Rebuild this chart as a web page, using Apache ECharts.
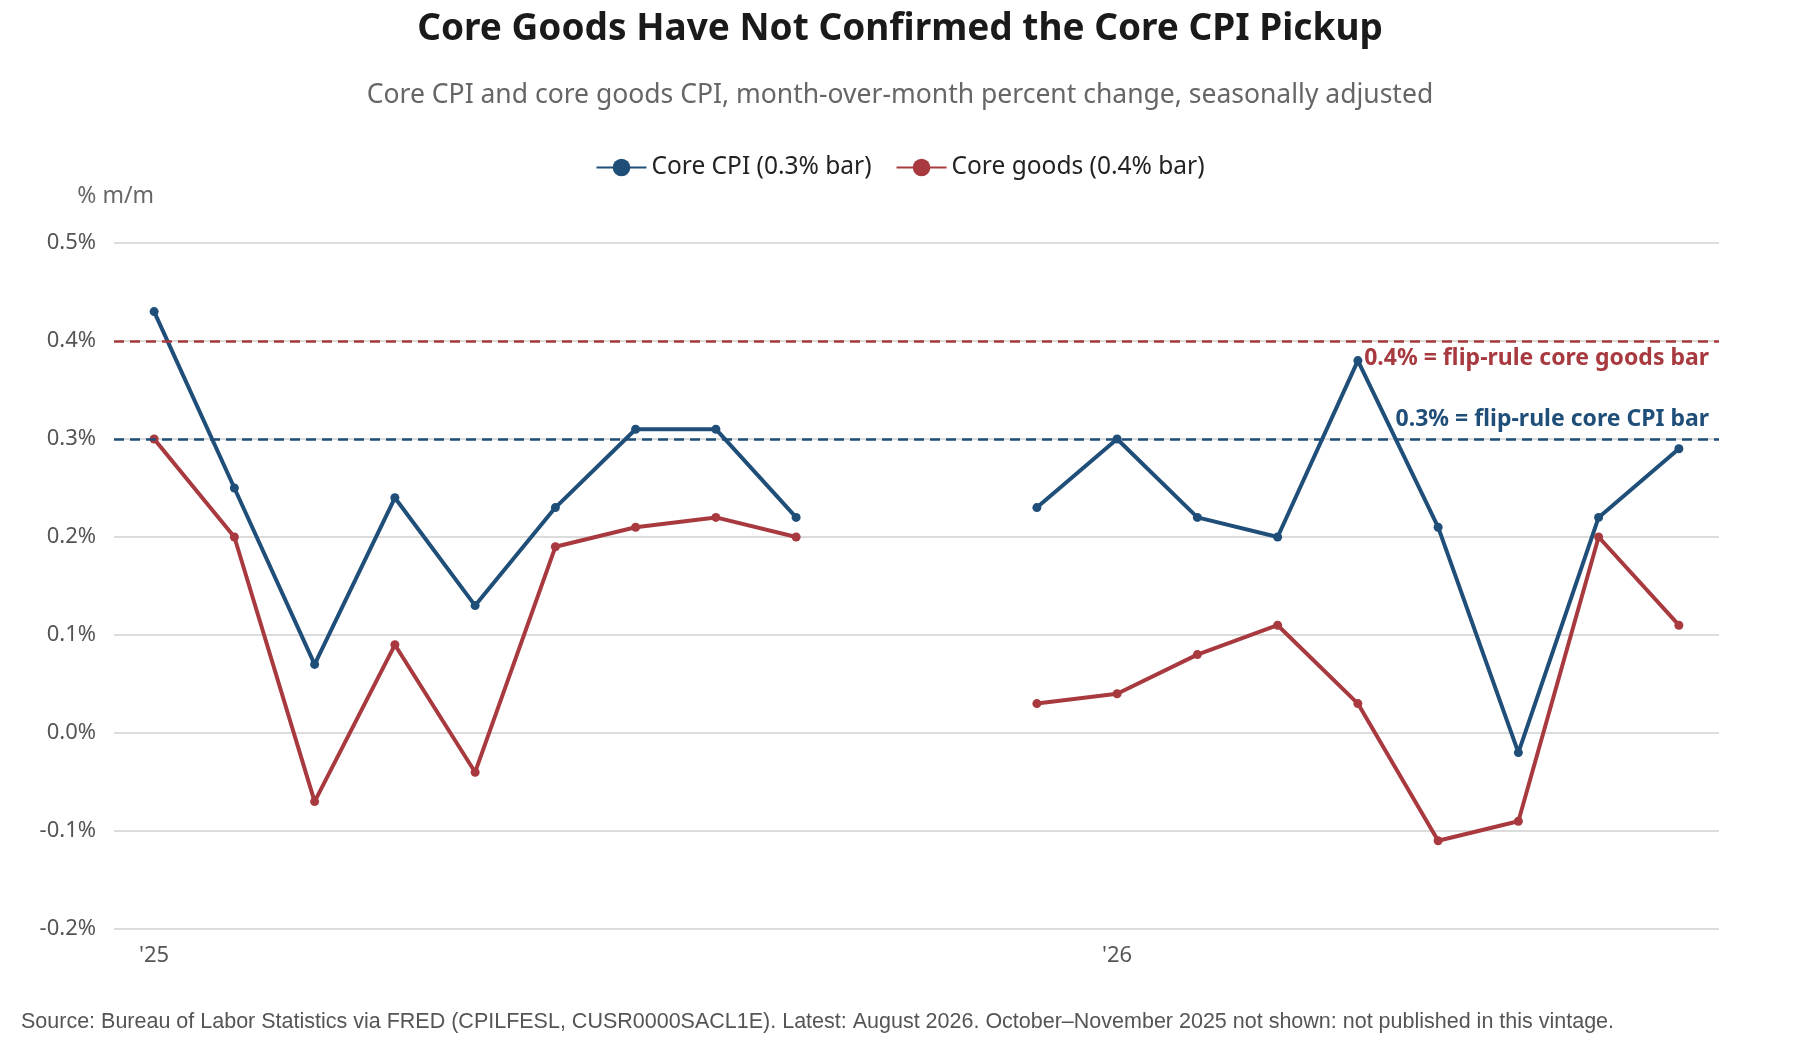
<!DOCTYPE html>
<html><head><meta charset="utf-8">
<script src="https://cdn.jsdelivr.net/npm/echarts@6/dist/echarts.min.js"></script>
<style>html,body{margin:0;padding:0;background:#fff}#c{width:1800px;height:1040px}</style>
</head><body><div id="c"></div>
<script>
const months = ['2025-01','2025-02','2025-03','2025-04','2025-05','2025-06','2025-07','2025-08','2025-09','2025-10','2025-11','2025-12','2026-01','2026-02','2026-03','2026-04','2026-05','2026-06','2026-07','2026-08'];
const coreCPI = [0.43,0.25,0.07,0.24,0.13,0.23,0.31,0.31,0.22,null,null,0.23,0.30,0.22,0.20,0.38,0.21,-0.02,0.22,0.29];
const coreGoods = [0.30,0.20,-0.07,0.09,-0.04,0.19,0.21,0.22,0.20,null,null,0.03,0.04,0.08,0.11,0.03,-0.11,-0.09,0.20,0.11];
const blue='#1f4e79', red='#a83a3f';
const F='"Noto Sans", "Open Sans", sans-serif';
const chart = echarts.init(document.getElementById('c'));
chart.setOption({
  animation:false,
  textStyle:{fontFamily:F},
  title:[
    {text:'Core Goods Have Not Confirmed the Core CPI Pickup',left:'center',top:6,textStyle:{fontSize:37,fontWeight:'bold',color:'#1a1a1a',fontFamily:F}},
    {text:'Core CPI and core goods CPI, month-over-month percent change, seasonally adjusted',left:'center',top:77,textStyle:{fontSize:26.5,fontWeight:'normal',color:'#666',fontFamily:F}},
    {text:'Source: Bureau of Labor Statistics via FRED (CPILFESL, CUSR0000SACL1E). Latest: August 2026. October–November 2025 not shown: not published in this vintage.',left:16,top:1006,textStyle:{fontSize:21.5,fontWeight:'normal',color:'#555',fontFamily:'"Liberation Sans", Arial, sans-serif'}}
  ],
  legend:{top:150,left:'center',itemWidth:50,itemHeight:22,itemGap:24,textStyle:{fontSize:24.5,color:'#222'},
    data:['Core CPI (0.3% bar)','Core goods (0.4% bar)']},
  grid:{left:114,right:81,top:243,bottom:111},
  xAxis:{type:'category',data:months,boundaryGap:true,
    axisLine:{show:false},axisTick:{show:false},
    axisLabel:{fontSize:22,color:'#555',margin:16,interval:0,
      formatter:v=>v.endsWith('-01')?"'"+v.slice(2,4):''}},
  yAxis:{type:'value',min:-0.2,max:0.5,interval:0.1,name:'% m/m',
    nameTextStyle:{fontSize:23,color:'#666',align:'right',padding:[0,-40,20,0]},
    axisLabel:{fontSize:22,color:'#555',margin:18,formatter:v=>v.toFixed(1)+'%'},
    splitLine:{lineStyle:{color:'#d0d0d0',width:1.5}}},
  series:[
    {name:'Core CPI (0.3% bar)',type:'line',data:coreCPI,color:blue,symbol:'circle',symbolSize:9,
      lineStyle:{width:4,color:blue},itemStyle:{color:blue},connectNulls:false,
      markLine:{silent:true,symbol:'none',lineStyle:{type:[10,6],width:2.5,color:blue},
        label:{position:'insideEndTop',formatter:'0.3% = flip-rule core CPI bar',color:blue,fontSize:23,fontWeight:'bold',distance:[10,8]},
        data:[{yAxis:0.3}]}},
    {name:'Core goods (0.4% bar)',type:'line',data:coreGoods,color:red,symbol:'circle',symbolSize:9,
      lineStyle:{width:4,color:red},itemStyle:{color:red},connectNulls:false,
      markLine:{silent:true,symbol:'none',lineStyle:{type:[10,6],width:2.5,color:red},
        label:{position:'insideEndBottom',formatter:'0.4% = flip-rule core goods bar',color:red,fontSize:23,fontWeight:'bold',distance:[10,6]},
        data:[{yAxis:0.4}]}}
  ]
});
</script></body></html>
